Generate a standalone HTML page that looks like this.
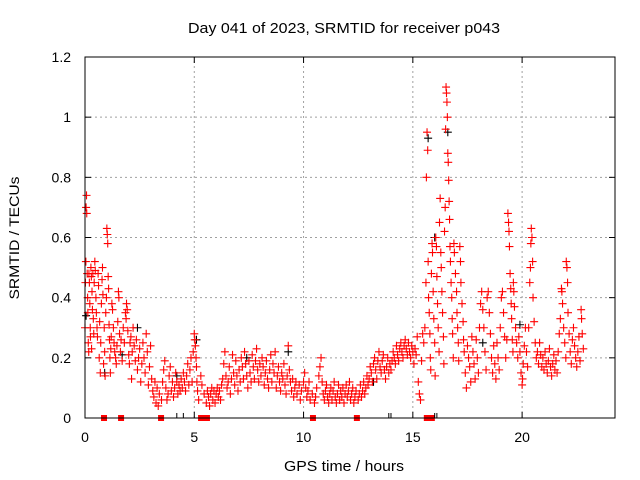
<!DOCTYPE html>
<html><head><meta charset="utf-8"><style>
html,body{margin:0;padding:0;background:#fff}
svg{display:block;font-family:"Liberation Sans",sans-serif}
</style></head><body>
<svg id="chart" width="640" height="480" viewBox="0 0 640 480">
<rect width="640" height="480" fill="#fff"/>
<text x="344" y="33" font-size="15" text-anchor="middle" textLength="312" lengthAdjust="spacingAndGlyphs">Day 041 of 2023, SRMTID for receiver p043</text>
<text x="344" y="471" font-size="15" text-anchor="middle" textLength="120" lengthAdjust="spacingAndGlyphs">GPS time / hours</text>
<text x="19" y="238" font-size="14" text-anchor="middle" textLength="123" lengthAdjust="spacingAndGlyphs" transform="rotate(-90 19 238)">SRMTID / TECUs</text>
<g id="grid"></g>
<g id="ticks"></g>
<g id="marks"></g>
<rect x="85" y="57" width="530" height="361" fill="none" stroke="#000" stroke-width="1"/>
</svg>
<script>
const xTicks=[0,5,10,15,20];
const yTicks=[0,0.2,0.4,0.6,0.8,1,1.2];
const yTickLabels=["0","0.2","0.4","0.6","0.8","1","1.2"];
const blackPts=[[0.05,.34],[0.9,.15],[1.7,.21],[4.2,.14],[5.1,.26],[9.3,.22],[15.7,.93],[16.0,.6],[16.6,.95],[18.2,.25],[19.9,.31],[13.2,.12],[7.4,.2],[2.4,.3]];
const redPts=[[0,.30],[.02,.45],[.04,.52],[.05,.70],[.07,.74],[.08,.68],[.1,.48],[.12,.40],[.13,.35],[.15,.25],[.17,.22],[.18,.48],[.2,.45],[.22,.38],[.24,.30],[.25,.27],[.27,.50],[.29,.47],[.3,.23],[.32,.42],[.34,.36],[.36,.48],[.38,.33],[.4,.28],[.42,.45],[.45,.52],[.47,.49],[.5,.40],[.52,.35],[.55,.30],[.57,.27],[.6,.48],[.62,.44],[.65,.20],[.67,.32],[.7,.15],[.72,.25],[.75,.38],[.78,.46],[.8,.50],[.82,.41],[.85,.18],[.88,.30],[.9,.22],[.92,.14],[.95,.35],[.98,.40],[1,.63],[1.02,.61],[1.04,.58],[1.06,.47],[1.08,.43],[1.1,.31],[1.12,.26],[1.14,.20],[1.16,.15],[1.18,.23],[1.2,.27],[1.23,.38],[1.26,.36],[1.3,.30],[1.33,.25],[1.36,.22],[1.4,.20],[1.43,.18],[1.46,.24],[1.5,.32],[1.53,.42],[1.55,.40],[1.58,.28],[1.62,.22],[1.65,.26],[1.7,.19],[1.75,.30],[1.8,.25],[1.85,.35],[1.88,.33],[1.9,.38],[1.93,.36],[1.96,.29],[2,.21],[2.03,.18],[2.06,.25],[2.1,.27],[2.13,.13],[2.16,.22],[2.2,.30],[2.25,.24],[2.3,.19],[2.35,.26],[2.4,.16],[2.45,.20],[2.5,.23],[2.55,.12],[2.6,.18],[2.65,.25],[2.7,.20],[2.75,.15],[2.8,.28],[2.85,.22],[2.9,.11],[2.95,.17],[3,.24],[3.05,.13],[3.1,.09],[3.15,.07],[3.2,.12],[3.25,.05],[3.3,.10],[3.35,.04],[3.4,.08],[3.5,.06],[3.55,.12],[3.6,.16],[3.65,.19],[3.7,.10],[3.75,.06],[3.8,.08],[3.85,.14],[3.9,.17],[3.95,.09],[4,.12],[4.05,.07],[4.1,.10],[4.15,.15],[4.2,.12],[4.25,.08],[4.3,.11],[4.35,.09],[4.4,.13],[4.45,.10],[4.5,.15],[4.55,.12],[4.6,.09],[4.65,.14],[4.7,.18],[4.75,.11],[4.8,.16],[4.85,.20],[4.9,.12],[4.95,.22],[5,.28],[5.02,.26],[5.05,.24],[5.08,.20],[5.1,.17],[5.12,.12],[5.15,.09],[5.2,.06],[5.3,.14],[5.35,.11],[5.45,.08],[5.55,.05],[5.6,.09],[5.65,.07],[5.7,.04],[5.75,.08],[5.8,.10],[5.85,.06],[5.9,.09],[5.95,.05],[6,.08],[6.05,.10],[6.1,.07],[6.15,.09],[6.2,.06],[6.25,.11],[6.3,.13],[6.35,.18],[6.4,.22],[6.45,.14],[6.5,.10],[6.55,.12],[6.6,.17],[6.65,.08],[6.7,.13],[6.75,.21],[6.8,.15],[6.85,.11],[6.9,.19],[6.95,.14],[7,.09],[7.05,.16],[7.1,.12],[7.15,.20],[7.2,.17],[7.25,.13],[7.3,.22],[7.35,.18],[7.4,.14],[7.45,.10],[7.5,.19],[7.55,.15],[7.6,.12],[7.65,.21],[7.7,.17],[7.75,.13],[7.8,.19],[7.85,.23],[7.9,.16],[7.95,.12],[8,.18],[8.05,.14],[8.1,.20],[8.15,.17],[8.2,.11],[8.25,.15],[8.3,.19],[8.35,.13],[8.4,.10],[8.45,.16],[8.5,.21],[8.55,.12],[8.6,.18],[8.65,.15],[8.7,.22],[8.75,.10],[8.8,.14],[8.85,.17],[8.9,.12],[8.95,.09],[9,.15],[9.05,.13],[9.1,.18],[9.15,.11],[9.2,.08],[9.25,.14],[9.3,.24],[9.35,.16],[9.4,.12],[9.45,.09],[9.5,.13],[9.55,.07],[9.6,.10],[9.65,.12],[9.7,.08],[9.8,.11],[9.85,.06],[9.9,.09],[10,.12],[10.05,.15],[10.1,.10],[10.15,.07],[10.2,.09],[10.25,.12],[10.3,.06],[10.4,.08],[10.5,.05],[10.55,.07],[10.6,.10],[10.7,.14],[10.75,.17],[10.8,.20],[10.85,.12],[10.9,.08],[10.95,.06],[11,.09],[11.05,.11],[11.1,.07],[11.15,.05],[11.2,.08],[11.25,.10],[11.3,.06],[11.35,.09],[11.4,.12],[11.45,.07],[11.5,.05],[11.55,.08],[11.6,.11],[11.65,.06],[11.7,.09],[11.75,.07],[11.8,.10],[11.85,.05],[11.9,.08],[11.95,.11],[12,.07],[12.05,.09],[12.1,.12],[12.15,.06],[12.2,.08],[12.25,.10],[12.3,.05],[12.35,.07],[12.4,.09],[12.5,.06],[12.55,.08],[12.6,.11],[12.65,.07],[12.7,.09],[12.75,.12],[12.8,.08],[12.85,.10],[12.9,.14],[12.95,.11],[13,.13],[13.05,.17],[13.1,.15],[13.15,.12],[13.2,.18],[13.25,.20],[13.3,.16],[13.35,.13],[13.4,.19],[13.45,.22],[13.5,.17],[13.55,.15],[13.6,.19],[13.65,.21],[13.7,.16],[13.75,.13],[13.8,.17],[13.85,.20],[13.9,.15],[13.95,.18],[14,.16],[14.05,.19],[14.1,.22],[14.15,.20],[14.2,.18],[14.25,.24],[14.3,.21],[14.35,.19],[14.4,.23],[14.45,.25],[14.5,.22],[14.55,.20],[14.6,.24],[14.65,.26],[14.7,.23],[14.75,.21],[14.8,.25],[14.85,.22],[14.9,.20],[14.95,.24],[15,.22],[15.05,.18],[15.1,.23],[15.15,.21],[15.2,.27],[15.25,.12],[15.3,.08],[15.35,.06],[15.4,.19],[15.45,.28],[15.5,.25],[15.55,.30],[15.6,.45],[15.62,.80],[15.65,.95],[15.68,.89],[15.7,.52],[15.72,.40],[15.75,.35],[15.78,.28],[15.8,.20],[15.82,.16],[15.85,.48],[15.88,.58],[15.9,.55],[15.93,.42],[15.96,.33],[16,.25],[16.02,.14],[16.05,.60],[16.08,.57],[16.1,.47],[16.13,.38],[16.16,.30],[16.2,.22],[16.22,.65],[16.25,.73],[16.28,.55],[16.3,.50],[16.33,.42],[16.36,.35],[16.4,.27],[16.42,.18],[16.45,.62],[16.48,.70],[16.5,.96],[16.52,1.10],[16.54,1.08],[16.56,1.05],[16.58,1.0],[16.6,.88],[16.62,.85],[16.64,.79],[16.66,.72],[16.68,.66],[16.7,.57],[16.72,.52],[16.75,.45],[16.78,.40],[16.8,.33],[16.82,.28],[16.85,.20],[16.88,.58],[16.9,.55],[16.95,.48],[17,.42],[17.02,.35],[17.05,.30],[17.08,.25],[17.1,.19],[17.15,.57],[17.18,.52],[17.2,.45],[17.25,.38],[17.3,.32],[17.32,.26],[17.35,.22],[17.4,.15],[17.45,.10],[17.5,.24],[17.55,.20],[17.6,.17],[17.65,.12],[17.7,.27],[17.75,.22],[17.8,.18],[17.85,.13],[17.9,.26],[17.95,.20],[18,.15],[18.05,.30],[18.1,.38],[18.15,.42],[18.2,.36],[18.25,.30],[18.3,.22],[18.35,.16],[18.4,.40],[18.45,.42],[18.5,.35],[18.55,.28],[18.6,.20],[18.65,.15],[18.7,.24],[18.75,.18],[18.8,.13],[18.85,.25],[18.9,.20],[18.95,.16],[19,.30],[19.05,.40],[19.1,.42],[19.15,.35],[19.2,.27],[19.25,.20],[19.3,.26],[19.35,.68],[19.38,.65],[19.4,.62],[19.42,.57],[19.45,.48],[19.48,.43],[19.5,.38],[19.52,.33],[19.55,.26],[19.58,.22],[19.6,.45],[19.62,.42],[19.65,.37],[19.7,.30],[19.75,.25],[19.8,.20],[19.85,.27],[19.9,.22],[19.95,.15],[20,.11],[20.02,.13],[20.05,.18],[20.1,.24],[20.15,.30],[20.2,.22],[20.25,.17],[20.3,.30],[20.35,.45],[20.38,.50],[20.4,.58],[20.42,.63],[20.45,.60],[20.48,.52],[20.5,.40],[20.55,.32],[20.6,.25],[20.65,.20],[20.7,.22],[20.75,.18],[20.8,.25],[20.85,.21],[20.9,.17],[20.95,.20],[21,.16],[21.05,.22],[21.1,.18],[21.15,.15],[21.2,.19],[21.25,.23],[21.3,.17],[21.35,.14],[21.4,.18],[21.45,.21],[21.5,.16],[21.55,.19],[21.6,.15],[21.65,.22],[21.7,.28],[21.75,.33],[21.8,.43],[21.82,.42],[21.85,.38],[21.9,.30],[21.95,.25],[22,.20],[22.02,.52],[22.05,.50],[22.08,.45],[22.1,.35],[22.15,.28],[22.2,.22],[22.25,.18],[22.3,.26],[22.35,.30],[22.4,.24],[22.45,.20],[22.5,.17],[22.55,.22],[22.6,.27],[22.65,.19],[22.7,.36],[22.72,.33],[22.75,.28],[22.8,.23]];
const gapHours=[0.87,1.65,3.48,5.31,5.58,10.43,12.44,15.64,15.87];
const slipHours=[4.2,4.5,13.9,14.0,16.0,16.1];

const NS="http://www.w3.org/2000/svg";
const X0=85,X1=615,Y0=418,Y1=57,XMAX=24.25,YMAX=1.2;
function sx(h){return X0+h*(X1-X0)/XMAX;}
function sy(v){return Y0-v*(Y0-Y1)/YMAX;}
function mk(tag,attrs,parent){const e=document.createElementNS(NS,tag);for(const k in attrs)e.setAttribute(k,attrs[k]);parent.appendChild(e);return e;}
const grid=document.getElementById('grid'),ticks=document.getElementById('ticks'),marks=document.getElementById('marks'),svg=document.getElementById('chart');

xTicks.forEach(t=>{
  const x=sx(t);
  if(t>0){const g=mk('line',{x1:x,y1:Y0,x2:x,y2:Y1,stroke:'#a0a0a0','stroke-dasharray':'2,3'},grid);
  
  }
  mk('line',{x1:x,y1:Y0,x2:x,y2:Y0-6,stroke:'#000'},ticks);
  mk('line',{x1:x,y1:Y1,x2:x,y2:Y1+6,stroke:'#000'},ticks);
  const l=mk('text',{x:x,y:Y0+24,'font-size':14,'text-anchor':'middle'},svg);
  l.textContent=String(t);
  
  
});
yTicks.forEach((t,i)=>{
  const y=sy(t);
  if(t>0&&t<YMAX){const g=mk('line',{x1:X0,y1:y,x2:X1,y2:y,stroke:'#a0a0a0','stroke-dasharray':'2,3'},grid);
  
  }
  mk('line',{x1:X0,y1:y,x2:X0+6,y2:y,stroke:'#000'},ticks);
  mk('line',{x1:X1,y1:y,x2:X1-6,y2:y,stroke:'#000'},ticks);
  const l=mk('text',{x:X0-14,y:y+5,'font-size':14,'text-anchor':'end'},svg);
  l.textContent=yTickLabels[i];
  
  
});
function plus(h,v,color){
  const x=sx(h),y=sy(v);
  return mk('path',{d:`M${x-4},${y}H${x+4}M${x},${y-4}V${y+4}`,stroke:color,'stroke-width':1.1,fill:'none'},marks);
}
blackPts.forEach(p=>{
  const e=plus(p[0],p[1],'#000');
  
  
});
redPts.forEach(p=>{
  const e=plus(p[0],p[1],'#ff0000');
  
  
});
gapHours.forEach(h=>{
  const e=mk('rect',{x:sx(h)-3,y:Y0-3,width:6,height:6,fill:'#ff0000'},marks);
  
  
});
slipHours.forEach(h=>{
  const e=mk('line',{x1:sx(h),y1:Y0-5,x2:sx(h),y2:Y0,stroke:'#000'},marks);
  
  
});
</script>
</body></html>
